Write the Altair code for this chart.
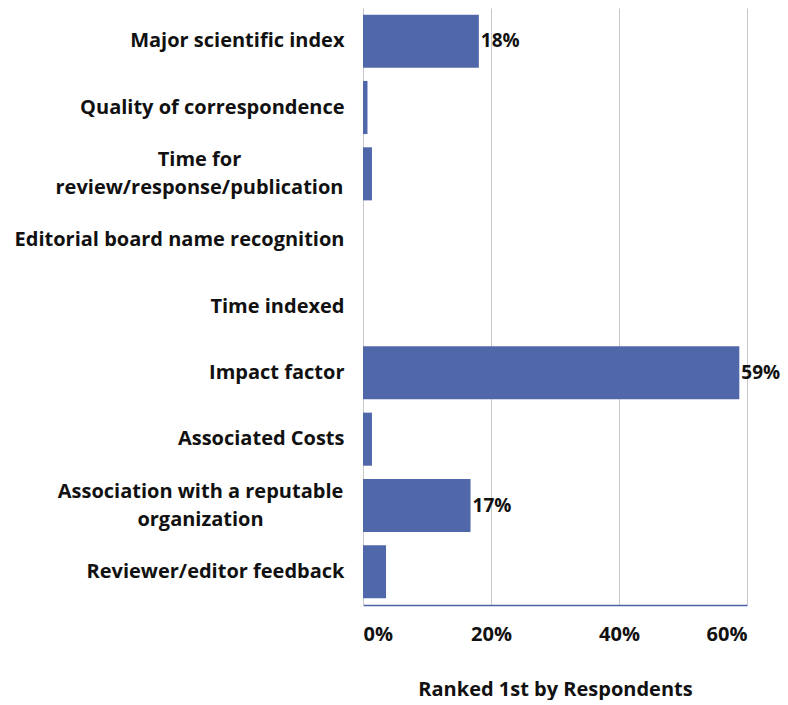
import altair as alt
import pandas as pd

categories = [
    "Major scientific index",
    "Quality of correspondence",
    "Time for\nreview/response/publication",
    "Editorial board name recognition\u00a0",
    "Time indexed",
    "Impact factor",
    "Associated Costs",
    "Association with a reputable\norganization",
    "Reviewer/editor feedback",
]
values = [0.181, 0.007, 0.014, 0.0, 0.0, 0.588, 0.014, 0.168, 0.036]
labels = ["18%", "", "", "", "", "59%", "", "17%", ""]

df = pd.DataFrame({"cat": categories, "val": values, "lab": labels})

FONT = "Open Sans"
FS = 20
BAR = "#5068AA"
TXT = "#111111"

multi = "indexof(datum.value, '\\n') >= 0"

y = alt.Y("cat:N", sort=categories, title=None,
          scale=alt.Scale(paddingInner=0.2, paddingOuter=0.1),
          axis=alt.Axis(labelExpr="split(datum.label, '\\n')", labelFont=FONT,
                        labelFontSize=FS, labelFontWeight="bold", labelColor=TXT,
                        ticks=False, domainColor="#c8c8c8",
                        labelLineHeight=28, labelLimit=400,
                        labelAlign={"condition": {"test": multi, "value": "center"},
                                    "value": "right"},
                        labelPadding={"condition": [
                            {"test": "indexof(datum.value, 'Time for') >= 0", "value": 164},
                            {"test": "indexof(datum.value, 'Association') >= 0", "value": 163}],
                            "value": 19},
                        labelOffset={"condition": {"test": multi, "value": -14}, "value": 0}))
x = alt.X("val:Q", title="Ranked 1st by Respondents",
          scale=alt.Scale(domain=[0, 0.6], nice=False),
          axis=alt.Axis(format="%", values=[0, 0.2, 0.4, 0.6], ticks=False,
                        labelFont=FONT, labelFontSize=FS, labelFontWeight="bold",
                        labelColor=TXT, labelPadding=19,
                        domainColor="#4a62a6", domainWidth=1.5,
                        gridColor="#c8c8c8", titleFont=FONT, titleFontSize=FS,
                        titleFontWeight="bold", titleColor=TXT, titlePadding=35))

bars = alt.Chart(df).mark_bar(color=BAR).encode(x=x, y=y)
text = alt.Chart(df).mark_text(align="left", dx=2, font=FONT, fontSize=19,
                               fontWeight="bold", color=TXT).encode(
    x="val:Q", y=alt.Y("cat:N", sort=categories), text="lab:N")

chart = (bars + text).properties(
    width=384, height=597,
    autosize=alt.AutoSizeParams(type="none"),
    padding={"left": 355, "top": 0, "right": 33, "bottom": 95},
).configure_view(stroke=None)
chart.save("out.html", embed_options={"renderer": "svg", "actions": False})
